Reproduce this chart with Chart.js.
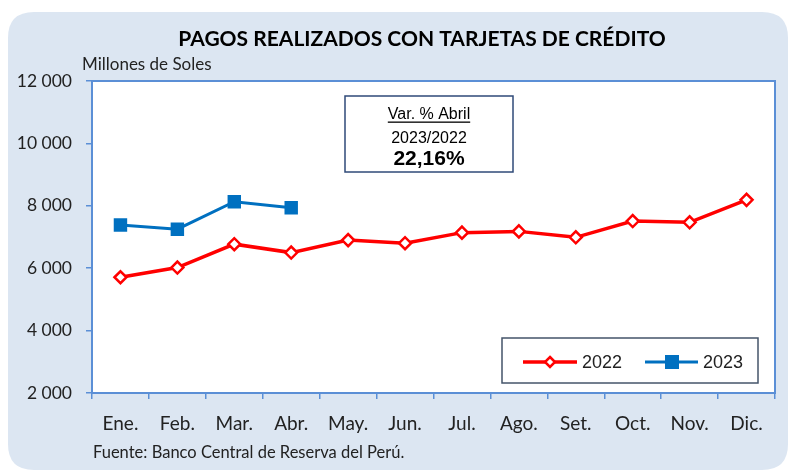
<!DOCTYPE html>
<html>
<head>
<meta charset="utf-8">
<script src="https://cdn.jsdelivr.net/npm/chart.js@4.4.1/dist/chart.umd.min.js"></script>
<style>
  html, body { margin: 0; padding: 0; background: #fff; }
  #wrap { width: 789px; height: 472px; }
</style>
</head>
<body>
<div id="wrap"><canvas id="chart" width="789" height="472"></canvas></div>
<script>
// Values (millones de soles)
const months = ["Ene.", "Feb.", "Mar.", "Abr.", "May.", "Jun.", "Jul.", "Ago.", "Set.", "Oct.", "Nov.", "Dic."];
const pagos2022 = [5710, 6020, 6770, 6500, 6900, 6800, 7140, 7180, 6990, 7510, 7470, 8190];
const pagos2023 = [7385, 7250, 8130, 7940, null, null, null, null, null, null, null, null];
const yTicks = [2000, 4000, 6000, 8000, 10000, 12000];

const RED = "#ff0000";
const BLUE = "#0070c0";
const AXIS = "#5b8fd6";
const PANEL = "#dce6f2";
const SANS = "Lato, 'Open Sans', sans-serif";
const ARIAL = "'Liberation Sans', Arial, sans-serif";

function fmtMiles(v) {
  return String(v).replace(/\B(?=(\d{3})+(?!\d))/g, " ");
}

function roundRect(ctx, x, y, w, h, r) {
  ctx.beginPath();
  ctx.moveTo(x + r, y);
  ctx.lineTo(x + w - r, y);
  ctx.quadraticCurveTo(x + w, y, x + w, y + r);
  ctx.lineTo(x + w, y + h - r);
  ctx.quadraticCurveTo(x + w, y + h, x + w - r, y + h);
  ctx.lineTo(x + r, y + h);
  ctx.quadraticCurveTo(x, y + h, x, y + h - r);
  ctx.lineTo(x, y + r);
  ctx.quadraticCurveTo(x, y, x + r, y);
  ctx.closePath();
}

// panel, plot background, titles, source note
const backdrop = {
  id: "backdrop",
  beforeDraw(chart) {
    const { ctx, chartArea: a } = chart;
    ctx.save();
    ctx.fillStyle = "#fff";
    ctx.fillRect(0, 0, chart.width, chart.height);
    ctx.fillStyle = PANEL;
    roundRect(ctx, 8, 12, 780, 458, 26);
    ctx.fill();
    ctx.fillStyle = "#fff";
    ctx.fillRect(a.left, a.top, a.right - a.left, a.bottom - a.top);

    ctx.fillStyle = "#000";
    ctx.textBaseline = "alphabetic";
    ctx.textAlign = "center";
    ctx.font = "bold 21px " + SANS;
    ctx.fillText("PAGOS REALIZADOS CON TARJETAS DE CRÉDITO", 422, 46);

    ctx.textAlign = "left";
    ctx.fillStyle = "#222";
    ctx.font = "17px " + SANS;
    ctx.fillText("Millones de Soles", 82, 70);

    ctx.font = "16.5px " + SANS;
    ctx.fillText("Fuente: Banco Central de Reserva del Perú.", 93, 458);
    ctx.restore();
  },
  beforeDatasetsDraw(chart) {
    const { ctx, chartArea: a } = chart;
    ctx.save();
    ctx.strokeStyle = AXIS;
    ctx.lineWidth = 2;
    ctx.strokeRect(a.left, a.top, a.right - a.left, a.bottom - a.top);
    ctx.restore();
  },
  afterDraw(chart) {
    const { ctx } = chart;
    ctx.save();
    // annotation box
    ctx.fillStyle = "#fff";
    ctx.fillRect(345, 96, 168, 76);
    ctx.strokeStyle = "#2f4a78";
    ctx.lineWidth = 1.5;
    ctx.strokeRect(345, 96, 168, 76);
    ctx.fillStyle = "#000";
    ctx.textAlign = "center";
    ctx.font = "16px " + ARIAL;
    ctx.fillText("Var. % Abril", 429, 119);
    const uw = ctx.measureText("Var. % Abril").width;
    ctx.fillRect(429 - uw / 2, 121.5, uw, 1.3);
    ctx.font = "16px " + ARIAL;
    ctx.fillText("2023/2022", 429, 143);
    ctx.font = "bold 21px " + ARIAL;
    ctx.fillText("22,16%", 429, 165);

    // legend
    ctx.fillStyle = "#fff";
    ctx.fillRect(502, 338, 256, 45);
    ctx.strokeStyle = "#44546a";
    ctx.lineWidth = 1.5;
    ctx.strokeRect(502, 338, 256, 45);
    const ly = 362;
    ctx.lineWidth = 3.5;
    ctx.strokeStyle = RED;
    ctx.beginPath(); ctx.moveTo(523, ly); ctx.lineTo(577, ly); ctx.stroke();
    ctx.lineWidth = 3;
    ctx.strokeStyle = BLUE;
    ctx.beginPath(); ctx.moveTo(645, ly); ctx.lineTo(698, ly); ctx.stroke();
    ctx.fillStyle = "#fff"; ctx.strokeStyle = RED; ctx.lineWidth = 2.5;
    ctx.beginPath();
    ctx.moveTo(550, ly - 5); ctx.lineTo(555, ly); ctx.lineTo(550, ly + 5); ctx.lineTo(545, ly); ctx.closePath();
    ctx.fill(); ctx.stroke();
    ctx.fillStyle = BLUE;
    ctx.fillRect(665, ly - 7, 14, 14);
    ctx.fillStyle = "#222";
    ctx.textAlign = "left";
    ctx.textBaseline = "middle";
    ctx.font = "18px " + ARIAL;
    ctx.fillText("2022", 582, ly + 1);
    ctx.fillText("2023", 703, ly + 1);
    ctx.restore();
  }
};

new Chart(document.getElementById("chart"), {
  type: "line",
  data: {
    labels: months,
    datasets: [
      {
        label: "2022",
        data: pagos2022,
        borderColor: RED,
        backgroundColor: "#fff",
        borderWidth: 3.5,
        pointStyle: "rectRot",
        pointRadius: 6,
        pointBorderWidth: 2.5,
        pointBorderColor: RED,
        pointBackgroundColor: "#fff",
        tension: 0,
      },
      {
        label: "2023",
        data: pagos2023,
        borderColor: BLUE,
        backgroundColor: BLUE,
        borderWidth: 3,
        pointStyle: "rect",
        pointRadius: 9.5,
        pointBorderWidth: 0,
        pointBackgroundColor: BLUE,
        tension: 0,
        spanGaps: false,
      },
    ],
  },
  options: {
    responsive: false,
    animation: false,
    layout: { padding: { left: 0, top: 81, right: 14, bottom: 0 } },
    plugins: {
      legend: { display: false },
      title: { display: false },
      tooltip: { enabled: false },
    },
    scales: {
      x: {
        offset: true,
        afterFit: (s) => { s.height = 79; },
        grid: { offset: true, drawOnChartArea: false, drawTicks: true, tickLength: 6, color: AXIS, lineWidth: 1.5 },
        border: { color: AXIS, width: 2 },
        ticks: { color: "#222", font: { family: SANS, size: 19 }, padding: 13, maxRotation: 0 },
      },
      y: {
        min: 2000,
        max: 12000,
        afterFit: (s) => { s.width = 92; },
        afterBuildTicks: (s) => { s.ticks = yTicks.map((v) => ({ value: v })); },
        grid: { drawOnChartArea: false, drawTicks: true, tickLength: 6, color: AXIS, lineWidth: 1.5 },
        border: { color: AXIS, width: 2 },
        ticks: { color: "#222", font: { family: SANS, size: 17.5 }, padding: 14, callback: (v) => fmtMiles(v) },
      },
    },
  },
  plugins: [backdrop],
});
</script>
</body>
</html>
